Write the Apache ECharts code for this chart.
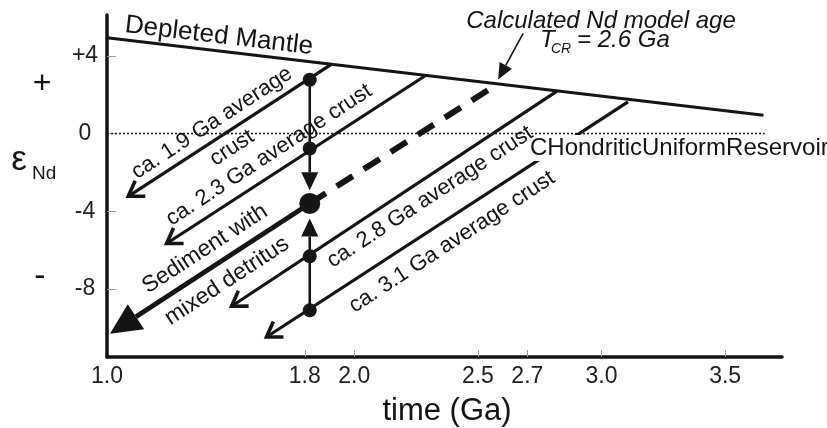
<!DOCTYPE html>
<html>
<head>
<meta charset="utf-8">
<script src="https://cdn.jsdelivr.net/npm/echarts@6/dist/echarts.min.js"></script>
<style>html,body{margin:0;padding:0;background:#fff;}#c{width:827px;height:428px;}</style>
</head>
<body>
<div id="c"></div>
<script>
// ---- data (time in Ga, epsilon Nd) ----
const xTickValues = [1.0, 1.8, 2.0, 2.5, 2.7, 3.0, 3.5];
const yTickValues = [-8, -4, 0, 4];
const dmTime = [1.0, 3.655];
const dmEps = [4.93, 0.94];
const churTime = [1.0, 3.66];
const churEps = [0, 0];
const crustAges = ['1.9', '2.3', '2.8', '3.1'];
const crustTopTime = [1.907, 2.29, 2.82, 3.107];
const crustTopEps = [3.56, 3.0, 2.18, 1.63];
const crustTipTime = [1.086, 1.241, 1.504, 1.645];
const crustTipEps = [-3.23, -5.66, -8.89, -10.47];
const modelAgeTime = [1.82, 2.58];
const modelAgeEps = [-3.60, 2.55];
const sedimentTime = [1.82, 1.012];
const sedimentEps = [-3.60, -10.3];
const sampleTime = 1.82;
const crustDotEps = [2.77, -0.77, -6.32, -9.10];
const sedimentDotEps = [-3.60];
const shiftStartEps = [2.77, -9.10];
const shiftTipEps = [-2.92, -4.37];
const tcrArrowTime = [2.683, 2.582];
const tcrArrowEps = [5.16, 2.78];

const INK = '#151515';
const FONT = '"Liberation Sans", Arial, sans-serif';

const chart = echarts.init(document.getElementById('c'), null, {renderer: 'canvas'});

function unit(a, b) { const dx = a[0]-b[0], dy = a[1]-b[1]; const L = Math.hypot(dx, dy) || 1; return [dx/L, dy/L]; }

function openArrow(params, api) {
  const a = api.coord([api.value(0), api.value(1)]);
  const b = api.coord([api.value(2), api.value(3)]);
  const u = unit(a, b);
  const ang = 33 * Math.PI / 180, len = 17;
  const rot = t => [b[0] + len*(u[0]*Math.cos(t) - u[1]*Math.sin(t)), b[1] + len*(u[0]*Math.sin(t) + u[1]*Math.cos(t))];
  return {type: 'group', children: [
    {type: 'line', shape: {x1: a[0], y1: a[1], x2: b[0], y2: b[1]}, style: {stroke: INK, lineWidth: 3.2}},
    {type: 'polyline', shape: {points: [rot(ang), b, rot(-ang)]}, style: {stroke: INK, lineWidth: 3.6, fill: null, lineJoin: 'miter'}}
  ]};
}

function filledArrow(len, hw, lw) {
  return function(params, api) {
    const a = api.coord([api.value(0), api.value(1)]);
    const b = api.coord([api.value(2), api.value(3)]);
    const u = unit(a, b);
    const n = [-u[1], u[0]];
    const base = [b[0] + u[0]*len, b[1] + u[1]*len];
    return {type: 'group', children: [
      {type: 'line', shape: {x1: a[0], y1: a[1], x2: base[0], y2: base[1]}, style: {stroke: INK, lineWidth: lw}},
      {type: 'polygon', shape: {points: [b, [base[0]+n[0]*hw, base[1]+n[1]*hw], [base[0]-n[0]*hw, base[1]-n[1]*hw]]}, style: {fill: INK}}
    ]};
  };
}

const crustData = crustAges.map((_, i) => [crustTopTime[i], crustTopEps[i], crustTipTime[i], crustTipEps[i]]);
const shiftData = shiftStartEps.map((s, i) => [sampleTime, s, sampleTime, shiftTipEps[i]]);

const rotC = 33.2 * Math.PI / 180;
function label(text, x, y, size, rot, extra) {
  return Object.assign({type: 'text', x: x, y: y, rotation: rot || 0, z: 100,
    style: Object.assign({text: text, fill: INK, font: size + 'px ' + FONT, textAlign: 'center', textVerticalAlign: 'middle'}, extra || {})});
}

const option = {
  backgroundColor: '#fff',
  animation: false,
  grid: {left: 107, right: 45, top: 15, bottom: 71, containLabel: false},
  xAxis: {
    type: 'value', min: 1.0, max: 3.73,
    axisLine: {onZero: false, lineStyle: {color: INK, width: 3.5}},
    axisTick: {show: true, inside: true, length: 7, customValues: xTickValues.slice(1), lineStyle: {color: '#999', width: 1}},
    axisLabel: {customValues: xTickValues, formatter: v => Number(v).toFixed(1), fontSize: 23, fontFamily: FONT, color: '#222', margin: 8},
    splitLine: {show: false}
  },
  yAxis: {
    type: 'value', min: -11.5, max: 6.1,
    axisLine: {show: true, onZero: false, lineStyle: {color: INK, width: 3.5}},
    axisTick: {show: true, inside: true, length: 9, customValues: yTickValues, lineStyle: {color: '#999', width: 1}},
    axisLabel: {customValues: yTickValues, formatter: v => (v > 0 ? '+' + v : String(v)), fontSize: 23, fontFamily: FONT, color: '#222', margin: 22, align: 'center'},
    splitLine: {show: false}
  },
  series: [
    {type: 'line', name: 'Depleted Mantle', data: dmTime.map((t, i) => [t, dmEps[i]]), symbol: 'none', lineStyle: {color: INK, width: 3}, z: 3},
    {type: 'line', name: 'CHUR', data: churTime.map((t, i) => [t, churEps[i]]), symbol: 'none', lineStyle: {color: '#222', width: 1.6, type: [2, 2]}, z: 2},
    {type: 'custom', name: 'crust', data: crustData, renderItem: openArrow, encode: {x: [0, 2], y: [1, 3]}, clip: false, z: 4},
    {type: 'line', name: 'model age', data: modelAgeTime.map((t, i) => [t, modelAgeEps[i]]), symbol: 'none', lineStyle: {color: INK, width: 6, type: [19, 13], cap: 'butt'}, z: 4},
    {type: 'custom', name: 'sediment', data: [[sedimentTime[0], sedimentEps[0], sedimentTime[1], sedimentEps[1]]], renderItem: filledArrow(31, 15, 5), encode: {x: [0, 2], y: [1, 3]}, clip: false, z: 4},
    {type: 'custom', name: 'shift', data: shiftData, renderItem: filledArrow(18, 8.5, 2.6), encode: {x: [0, 2], y: [1, 3]}, clip: false, z: 4},
    {type: 'custom', name: 'tcr', data: [[tcrArrowTime[0], tcrArrowEps[0], tcrArrowTime[1], tcrArrowEps[1]]], renderItem: filledArrow(16, 7, 1.6), encode: {x: [0, 2], y: [1, 3]}, clip: false, z: 4},
    {type: 'scatter', name: 'crust dots', data: crustDotEps.map(e => [sampleTime, e]), symbol: 'circle', symbolSize: 14, itemStyle: {color: INK, opacity: 1}, z: 5},
    {type: 'scatter', name: 'sediment dot', data: sedimentDotEps.map(e => [sampleTime, e]), symbol: 'circle', symbolSize: 21, itemStyle: {color: INK, opacity: 1}, z: 5}
  ],
  graphic: [
    label('Depleted Mantle', 219, 36, 26, -0.117),
    label('Calculated Nd model age', 601, 21, 24, 0, {font: 'italic 24px ' + FONT}),
    label('T', 540, 40, 24, 0, {font: 'italic 24px ' + FONT, textAlign: 'left'}),
    label('CR', 551, 49, 14, 0, {font: 'italic 14px ' + FONT, textAlign: 'left'}),
    label('= 2.6 Ga', 577, 40, 24, 0, {font: 'italic 24px ' + FONT, textAlign: 'left'}),
    label('CHondriticUniformReservoir', 528, 148, 24, 0, {textAlign: 'left', backgroundColor: '#fff', padding: [1, 1, 1, 2]}),
    label('ca. ' + crustAges[0] + ' Ga average', 212, 123, 22, rotC),
    label('crust', 232, 148, 22, rotC),
    label('ca. ' + crustAges[1] + ' Ga average crust', 269, 155, 22, rotC),
    label('Sediment with', 205, 249, 23, rotC),
    label('mixed detritus', 227, 281, 23, rotC),
    label('ca. ' + crustAges[2] + ' Ga average crust', 430, 197, 22, rotC),
    label('ca. ' + crustAges[3] + ' Ga average crust', 452, 242, 22, rotC),
    label('+', 42, 84, 32),
    label('-', 40, 277, 34),
    label('\u03b5', 19, 160, 35),
    label('Nd', 32, 174, 19, 0, {textAlign: 'left'}),
    label('time (Ga)', 447, 411, 31)
  ]
};
chart.setOption(option);
</script>
</body>
</html>
